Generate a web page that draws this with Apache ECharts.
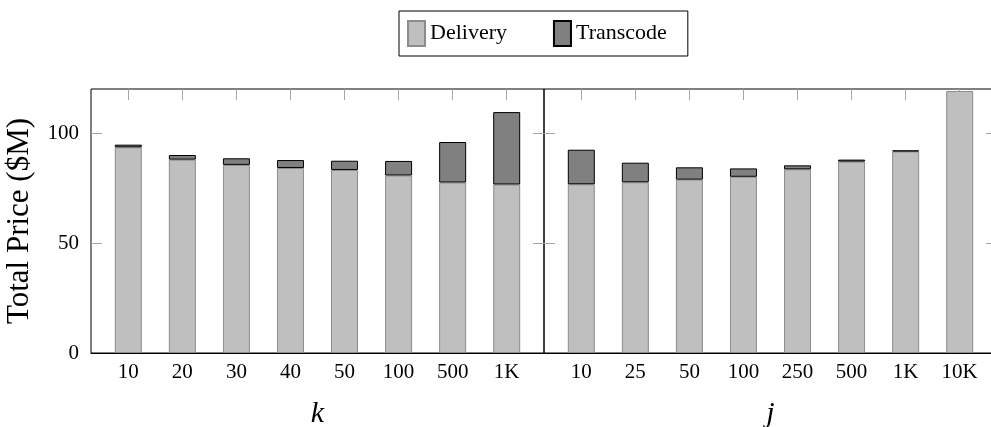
<!DOCTYPE html>
<html>
<head>
<meta charset="utf-8">
<script src="https://cdn.jsdelivr.net/npm/echarts@6/dist/echarts.min.js"></script>
<style>
  html, body { margin: 0; padding: 0; background: #fff; }
  #chart { width: 991px; height: 427px; }
</style>
</head>
<body>
<div id="chart"></div>
<script>
const kCats = ['10', '20', '30', '40', '50', '100', '500', '1K'];
const jCats = ['10', '25', '50', '100', '250', '500', '1K', '10K'];
const kDelivery  = [93.5, 87.9, 85.5, 84.1, 83.2, 80.7, 77.5, 76.6];
const kTranscode = [1.2, 2.1, 3.0, 3.6, 4.2, 6.6, 18.4, 32.9];
const jDelivery  = [76.7, 77.6, 78.8, 80.1, 83.5, 87.0, 91.6, 119.1];
const jTranscode = [15.7, 8.9, 5.6, 3.8, 1.8, 0.9, 0.5, null];
const yTicks = [0, 50, 100];
const yMin = 0, yMax = 120;

const FONT = 'Liberation Serif';
const TICK = '#a6a6a6';
const DELIV_FILL = '#bfbfbf', DELIV_EDGE = '#8c8c8c';
const TRANS_FILL = '#808080', TRANS_EDGE = '#000000';

const idx = kCats.map((_, i) => i);
const xMin = -0.69, xMax = 7.69;

function bottomX(gridIndex, cats, name) {
  return {
    type: 'value', gridIndex, position: 'bottom', min: xMin, max: xMax,
    z: 5,
    axisLine: { show: true, onZero: false, lineStyle: { color: '#000', width: 1 } },
    axisTick: { show: false },
    splitLine: { show: false },
    axisLabel: {
      customValues: idx, margin: 9,
      formatter: v => cats[Math.round(v)],
      fontFamily: FONT, fontSize: 21, color: '#000'
    },
    name, nameLocation: 'middle', nameGap: 46,
    nameTextStyle: { fontFamily: FONT, fontSize: 30, fontStyle: 'italic', color: '#000' }
  };
}
function topX(gridIndex) {
  return {
    type: 'value', gridIndex, position: 'top', min: xMin, max: xMax,
    axisLine: { show: false, onZero: false },
    axisTick: { show: true, inside: true, length: 11, customValues: idx, lineStyle: { color: TICK, width: 1 } },
    axisLabel: { show: true, customValues: idx, formatter: () => '' },
    splitLine: { show: false }
  };
}
function yAx(gridIndex, position, labels, name) {
  const a = {
    type: 'value', gridIndex, position, min: yMin, max: yMax,
    axisLine: { show: false, onZero: false },
    axisTick: { show: true, inside: true, length: 11, customValues: yTicks, lineStyle: { color: TICK, width: 1 } },
    axisLabel: {
      show: true, customValues: yTicks, margin: 12,
      formatter: v => labels ? String(v) : '',
      fontFamily: FONT, fontSize: 21, color: '#000'
    },
    splitLine: { show: false }
  };
  if (name) {
    a.name = name; a.nameLocation = 'middle'; a.nameGap = 56; a.nameRotate = 90;
    a.nameTextStyle = { fontFamily: FONT, fontSize: 31, color: '#000' };
  }
  return a;
}

// value first, category index second: the value column is the stacked one
function barSeries(name, vals, xi, yi, stack, fill, edge) {
  return {
    name, type: 'bar', stack, xAxisIndex: xi, yAxisIndex: yi,
    barWidth: 27,
    encode: { x: 1, y: 0 },
    itemStyle: { color: fill, borderColor: edge, borderWidth: 1 },
    emphasis: { disabled: true },
    data: vals.map((v, i) => [v == null ? '-' : v, i])
  };
}

const chart = echarts.init(document.getElementById('chart'), null, { renderer: 'canvas' });
chart.setOption({
  animation: false,
  backgroundColor: '#fff',
  legend: {
    data: ['Delivery', 'Transcode'],
    top: 11, left: 399,
    orient: 'horizontal',
    itemWidth: 17, itemHeight: 25, itemGap: 46,
    padding: [9, 21, 9, 8],
    borderColor: '#000', borderWidth: 1,
    icon: 'rect',
    textStyle: { fontFamily: FONT, fontSize: 22, color: '#000' }
  },
  grid: [
    { left: 91, top: 89, width: 453, height: 264, show: true, borderColor: '#000', borderWidth: 1,
      backgroundColor: 'transparent', containLabel: false, outerBoundsMode: 'none' },
    { left: 544, top: 89, width: 453, height: 264, show: true, borderColor: '#000', borderWidth: 1,
      backgroundColor: 'transparent', containLabel: false, outerBoundsMode: 'none' }
  ],
  xAxis: [bottomX(0, kCats, 'k'), topX(0), bottomX(1, jCats, 'j'), topX(1)],
  yAxis: [yAx(0, 'left', true, 'Total Price ($M)'), yAx(0, 'right', false), yAx(1, 'left', false), yAx(1, 'right', false)],
  series: [
    barSeries('Delivery', kDelivery, 0, 0, 'k', DELIV_FILL, DELIV_EDGE),
    barSeries('Transcode', kTranscode, 0, 0, 'k', TRANS_FILL, TRANS_EDGE),
    barSeries('Delivery', jDelivery, 2, 2, 'j', DELIV_FILL, DELIV_EDGE),
    barSeries('Transcode', jTranscode, 2, 2, 'j', TRANS_FILL, TRANS_EDGE)
  ]
});
</script>
</body>
</html>
